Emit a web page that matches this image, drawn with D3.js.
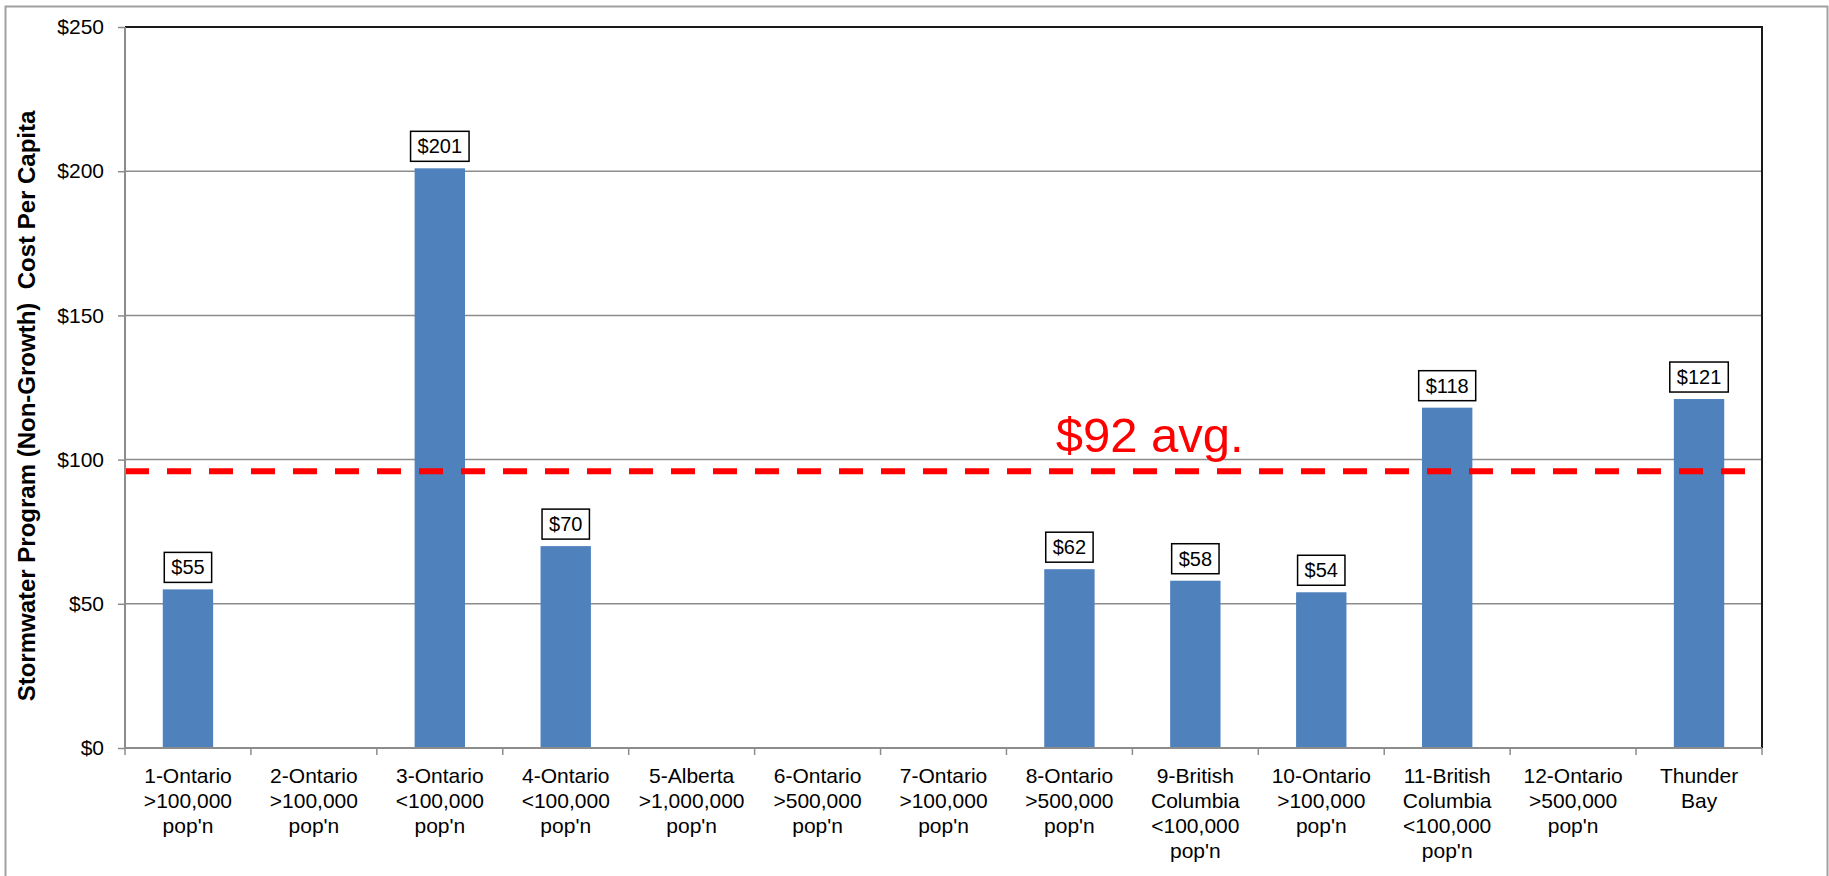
<!DOCTYPE html>
<html>
  <meta charset="utf-8" />
  <script src="https://d3js.org/d3.v7.min.js"></script>
  <style>
    body { margin: 0; background: #fff; }
    text { font-family: "Liberation Sans", Arial, sans-serif; fill: #000; }
  </style>
  <body>
    <svg id="chart" width="1829" height="876"></svg>
    <script>
      // Data
      var categories = [
        "1-Ontario|>100,000|pop'n",
        "2-Ontario|>100,000|pop'n",
        "3-Ontario|<100,000|pop'n",
        "4-Ontario|<100,000|pop'n",
        "5-Alberta|>1,000,000|pop'n",
        "6-Ontario|>500,000|pop'n",
        "7-Ontario|>100,000|pop'n",
        "8-Ontario|>500,000|pop'n",
        "9-British|Columbia|<100,000|pop'n",
        "10-Ontario|>100,000|pop'n",
        "11-British|Columbia|<100,000|pop'n",
        "12-Ontario|>500,000|pop'n",
        "Thunder|Bay"
      ]
      var costs = [55, 0, 201, 70, 0, 0, 0, 62, 58, 54, 118, 0, 121]
      var yTicks = [0, 50, 100, 150, 200, 250]
      var avgLineValue = 96
      var avgLabel = "$92 avg."
      var yTitle = "Stormwater Program (Non-Growth)  Cost Per Capita"

      var svg = d3.select("#chart"),
        width = +svg.attr("width"),
        height = +svg.attr("height")

      var margin = { top: 27, right: 67, bottom: 128, left: 125 }
      var w = width - margin.left - margin.right,
        h = height - margin.top - margin.bottom

      // outer chart border
      svg.append("rect")
        .attr("x", 5.5).attr("y", 6.5)
        .attr("width", width - 7).attr("height", height + 10)
        .attr("fill", "none").attr("stroke", "#a0a0a0").attr("stroke-width", 2)

      var g = svg.append("g").attr("transform", "translate(" + margin.left + "," + margin.top + ")")

      var x = d3.scaleBand().domain(categories).range([0, w]).paddingInner(0.6).paddingOuter(0.3)
      var y = d3.scaleLinear().domain([0, 250]).range([h, 0])
      var step = x.step()

      // gridlines
      g.selectAll(".grid")
        .data(yTicks.filter(function(d) { return d > 0 && d < 250 }))
        .enter().append("line")
        .attr("x1", 0).attr("x2", w)
        .attr("y1", function(d) { return y(d) }).attr("y2", function(d) { return y(d) })
        .attr("stroke", "#8c8c8c").attr("stroke-width", 1.5)

      // plot border top / right
      g.append("path")
        .attr("d", "M0," + y(250) + "H" + w + "V" + h)
        .attr("fill", "none").attr("stroke", "#1a1a1a").attr("stroke-width", 2)

      // bars
      g.selectAll(".bar")
        .data(categories)
        .enter().append("rect")
        .attr("x", function(d) { return x(d) })
        .attr("width", x.bandwidth())
        .attr("y", function(d, i) { return y(costs[i]) })
        .attr("height", function(d, i) { return h - y(costs[i]) })
        .attr("fill", "#4f81bd")

      // average line
      g.append("line")
        .attr("x1", 0).attr("x2", w)
        .attr("y1", y(avgLineValue)).attr("y2", y(avgLineValue))
        .attr("stroke", "#ff0000").attr("stroke-width", 6)
        .attr("stroke-dasharray", "24,18")

      g.append("text")
        .attr("x", w * 0.626)
        .attr("y", y(avgLineValue) - 19)
        .attr("text-anchor", "middle")
        .style("font-size", "49px")
        .style("fill", "#ff0000")
        .text(avgLabel)

      // data labels in boxes
      var labels = g.selectAll(".lbl")
        .data(categories.filter(function(d, i) { return costs[i] > 0 }))
        .enter().append("g")
        .attr("transform", function(d) {
          var v = costs[categories.indexOf(d)]
          return "translate(" + (x(d) + x.bandwidth() / 2) + "," + (y(v) - 7) + ")"
        })
      labels.append("rect").attr("class", "box")
      labels.append("text")
        .attr("text-anchor", "middle")
        .attr("y", -8)
        .style("font-size", "20px")
        .text(function(d) { return "$" + costs[categories.indexOf(d)] })
      labels.each(function() {
        var t = d3.select(this).select("text"),
          tw = t.node().getComputedTextLength() + 14
        d3.select(this).select("rect")
          .attr("x", -tw / 2).attr("y", -30)
          .attr("width", tw).attr("height", 30)
          .attr("fill", "#fff").attr("stroke", "#000").attr("stroke-width", 1.5)
      })

      // y axis
      var yAxis = g.append("g")
        .call(d3.axisLeft(y).tickValues(yTicks).tickSize(7).tickPadding(14)
          .tickFormat(function(d) { return "$" + d }))
      yAxis.selectAll("text").style("font-size", "21px")
      yAxis.selectAll("line").attr("stroke", "#8c8c8c").attr("stroke-width", 1.5)
      yAxis.select(".domain").attr("stroke", "#8c8c8c").attr("stroke-width", 2)
        .attr("d", "M0," + y(250) + "V" + h)

      // x axis with ticks at category boundaries
      g.append("line")
        .attr("x1", 0).attr("x2", w).attr("y1", h).attr("y2", h)
        .attr("stroke", "#8c8c8c").attr("stroke-width", 2)
      var bounds = categories.map(function(d) { return x(d) - step * 0.3 }).concat([w])
      g.selectAll(".xtick")
        .data(bounds)
        .enter().append("line")
        .attr("x1", function(d) { return d }).attr("x2", function(d) { return d })
        .attr("y1", h).attr("y2", h + 7)
        .attr("stroke", "#8c8c8c").attr("stroke-width", 1.5)

      var xl = g.selectAll(".xlabel")
        .data(categories)
        .enter().append("text")
        .attr("text-anchor", "middle")
        .attr("transform", function(d) { return "translate(" + (x(d) + x.bandwidth() / 2) + "," + (h + 35) + ")" })
        .style("font-size", "21px")
      xl.selectAll("tspan")
        .data(function(d) { return d.split("|") })
        .enter().append("tspan")
        .attr("x", 0)
        .attr("y", function(d, i) { return i * 25 })
        .text(function(d) { return d })

      // y title
      svg.append("text")
        .attr("transform", "translate(35," + 406 + ") rotate(-90)")
        .attr("text-anchor", "middle")
        .style("font-size", "24px")
        .style("font-weight", "bold")
        .style("white-space", "pre")
        .text(yTitle)
    </script>
  </body>
</html>
